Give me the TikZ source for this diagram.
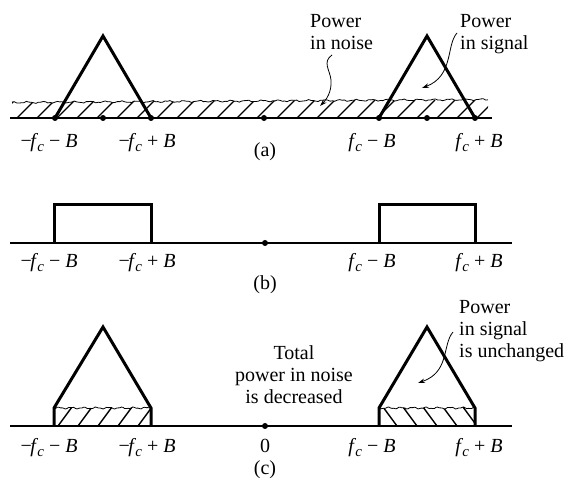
\documentclass[tikz,border=0pt]{standalone}
\usepackage{fontspec}
\setmainfont{Liberation Serif}
\usetikzlibrary{arrows.meta}
\newcommand\fcx{\textit{f}\kern-0.8pt\raisebox{-4pt}{\fontsize{15}{15}\selectfont\textit{c}}}
\begin{document}
\begin{tikzpicture}[x=1pt,y=-1pt,
  axisline/.style={line width=1.8pt},
  sig/.style={line width=3pt, line join=miter},
  hatchline/.style={line width=1.4pt},
  wavy/.style={line width=0.8pt},
  dotnode/.style={circle, fill, inner sep=0pt, minimum size=6pt},
  lbl/.style={font=\fontsize{20}{22}\selectfont, inner sep=0pt, anchor=base},
  note/.style={font=\fontsize{20}{22}\selectfont, inner sep=0pt, align=left, anchor=north west},
  notec/.style={font=\fontsize{20}{22}\selectfont, inner sep=0pt, align=center, anchor=north},
  arr/.style={line width=0.8pt, -{Stealth[length=7pt,width=4.5pt]}}]
\useasboundingbox (0,0) rectangle (571,478);

% ---------------- (a) ----------------
\begin{scope}
  \clip plot[domain=12:488, samples=200, smooth] (\x, {102.5 - 3*(\x-12)/476 + 0.7*sin(\x*23) + 0.4*sin((\x-250)*60)}) -- (488,118) -- (12,118) -- cycle;
  \foreach \xx in {-3,17,...,477} \draw[hatchline] (\xx,118) -- ++(18,-18);
\end{scope}
\draw[wavy] plot[domain=12:488, samples=200, smooth] (\x, {102.5 - 3*(\x-12)/476 + 0.7*sin(\x*23) + 0.4*sin((\x-250)*60)});
\draw[axisline] (10,118) -- (492,118);
\node[dotnode] (a1) at (55,118) {};
\node[dotnode] (a2) at (103,118) {};
\node[dotnode] (a3) at (151,118) {};
\node[dotnode] (a4) at (264,118) {};
\node[dotnode] (a5) at (379,118) {};
\node[dotnode] (a6) at (427,118) {};
\node[dotnode] (a7) at (475,118) {};
\draw[sig] (a1.center) -- (103,36) -- (a3.center);
\draw[sig] (a5.center) -- (427,36) -- (a7.center);
\node[lbl] (la1) at (49,148) {−\kern-1.5pt\fcx{} − \textit{B}};
\node[lbl] (la2) at (147,148) {−\kern-1.5pt\fcx{} + \textit{B}};
\node[lbl] (la3) at (372,148) {\fcx{} − \textit{B}};
\node[lbl] (la4) at (479,148) {\fcx{} + \textit{B}};
\node[lbl] (capa) at (265,157) {(a)};
\node[note] (pn) at (310,14) {Power\\in noise};
\node[note] (ps) at (460,14) {Power\\in signal};
\coordinate (pnstart) at (332,55);
\coordinate (pnend) at (320,106);
\coordinate (psstart) at (457,33);
\coordinate (psend) at (422,88);
\draw[arr] (pnstart) .. controls (322,62) and (330,70) .. (331,80) .. controls (332,92) and (326,100) .. (pnend);
\draw[arr] (psstart) .. controls (446,45) and (454,76) .. (psend);

% ---------------- (b) ----------------
\draw[axisline] (10,243) -- (512,243);
\node[dotnode] (b0) at (265,243) {};
\draw[sig] (54,243) -- (54,205) -- (151,205) -- (151,243);
\draw[sig] (379,243) -- (379,205) -- (475,205) -- (475,243);
\node[lbl] (lb1) at (49,268) {−\kern-1.5pt\fcx{} − \textit{B}};
\node[lbl] (lb2) at (147,268) {−\kern-1.5pt\fcx{} + \textit{B}};
\node[lbl] (lb3) at (372,268) {\fcx{} − \textit{B}};
\node[lbl] (lb4) at (479,268) {\fcx{} + \textit{B}};
\node[lbl] (capb) at (265,290) {(b)};

% ---------------- (c) ----------------
\begin{scope}
  \clip plot[domain=54:151, samples=60, smooth] (\x, {408 + 0.7*sin(\x*29) + 0.4*sin(\x*67)}) -- (151,426) -- (54,426) -- cycle;
  \foreach \xx in {38,58,...,158} \draw[hatchline] (\xx,426) -- ++(14,-19);
\end{scope}
\draw[wavy] plot[domain=54:151, samples=60, smooth] (\x, {408 + 0.7*sin(\x*29) + 0.4*sin(\x*67)});
\begin{scope}
  \clip plot[domain=379:475, samples=60, smooth] (\x, {408 + 0.7*sin((\x-379)*29) + 0.4*sin((\x-379)*67)}) -- (475,426) -- (379,426) -- cycle;
  \foreach \xx in {363,383,...,483} \draw[hatchline] (\xx,407) -- ++(14,19);
\end{scope}
\draw[wavy] plot[domain=379:475, samples=60, smooth] (\x, {408 + 0.7*sin((\x-379)*29) + 0.4*sin((\x-379)*67)});
\draw[axisline] (10,426) -- (512,426);
\node[dotnode] (c0) at (265,426) {};
\draw[sig] (54,426) -- (54,408) -- (103,327) -- (151,408) -- (151,426);
\draw[sig] (379,426) -- (379,408) -- (427,327) -- (475,408) -- (475,426);
\node[lbl] (lc1) at (49,453) {−\kern-1.5pt\fcx{} − \textit{B}};
\node[lbl] (lc2) at (147,453) {−\kern-1.5pt\fcx{} + \textit{B}};
\node[lbl] (lc0) at (265,453) {0};
\node[lbl] (lc3) at (372,453) {\fcx{} − \textit{B}};
\node[lbl] (lc4) at (479,453) {\fcx{} + \textit{B}};
\node[lbl] (capc) at (265,475) {(c)};
\node[notec] (tot) at (294,345) {Total\\power in noise\\is decreased};
\node[note] (psu) at (459,300) {Power\\in signal\\is unchanged};
\coordinate (psustart) at (453,332);
\coordinate (psuend) at (418,383);
\draw[arr] (psustart) .. controls (442,345) and (450,372) .. (psuend);
\end{tikzpicture}
\end{document}
